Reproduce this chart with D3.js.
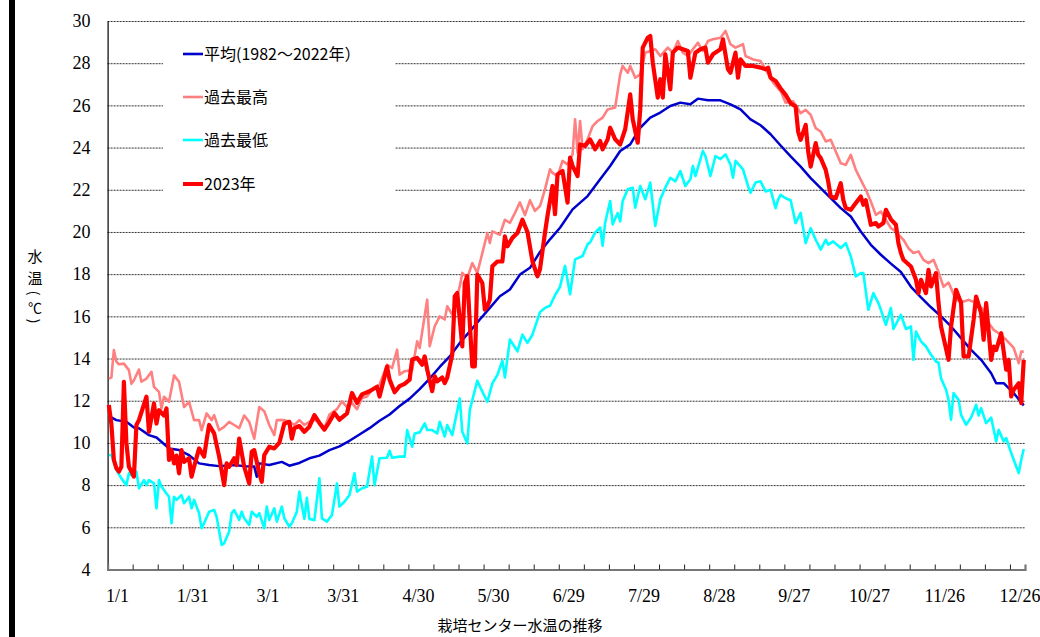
<!DOCTYPE html>
<html>
<head>
<meta charset="utf-8">
<script src="https://cdn.jsdelivr.net/npm/d3@7"></script>
<style>
  body { margin: 0; background: #fff; }
  svg { display: block; }
</style>
</head>
<body>
<div class="card"></div>
<script>
// day index (0 = 1/1, 366 categories incl. 2/29) and water temperature
var avgTemps = [[0,11.27],[3,11.08],[7,11.0],[10,10.73],[12,10.7],[16,10.37],[19,10.26],[22,9.95],[24,9.74],[28,9.66],[32,9.42],[36,9.03],[40,8.95],[44,8.9],[50,8.95],[54,8.9],[58,8.88],[59,8.4],[60,9.03],[64,8.95],[69,9.1],[72,8.92],[76,9.05],[80,9.27],[84,9.4],[88,9.66],[92,9.84],[96,10.1],[100,10.4],[104,10.7],[108,11.05],[112,11.35],[116,11.75],[120,12.1],[124,12.55],[128,13.05],[132,13.6],[136,14.1],[140,14.74],[144,15.29],[148,15.85],[152,16.4],[156,16.95],[160,17.27],[164,17.98],[168,18.3],[172,19.05],[176,19.65],[180,20.2],[185,21.07],[191,21.7],[196,22.5],[200,23.13],[204,23.84],[208,24.15],[212,24.94],[216,25.42],[220,25.66],[224,25.97],[228,26.13],[232,26.05],[235,26.32],[239,26.24],[244,26.24],[248,26.05],[252,25.81],[256,25.34],[260,25.06],[264,24.63],[268,24.1],[272,23.58],[276,23.1],[280,22.55],[284,22.08],[288,21.6],[292,21.13],[296,20.73],[300,20.02],[304,19.39],[308,18.92],[312,18.5],[316,18.1],[320,17.4],[324,16.9],[328,16.43],[332,16.0],[336,15.52],[340,14.97],[344,14.41],[348,13.94],[352,13.3],[354,12.83],[357,12.83],[361,12.36],[365,11.78]];

var maxTemps = [[0,13.05],[1,13.1],[2,14.4],[3,13.85],[4,13.73],[6,13.76],[8,13.45],[9,12.8],[10,12.97],[12,13.48],[13,12.9],[15,13.05],[17,13.37],[18,12.66],[20,12.42],[21,11.63],[22,12.19],[24,11.95],[26,13.2],[28,12.9],[30,11.7],[32,11.95],[34,11.08],[36,11.08],[37,10.6],[39,11.4],[41,11.08],[42,11.32],[44,10.6],[46,10.76],[48,11.0],[50,10.85],[52,10.7],[54,11.3],[56,11.0],[58,10.2],[60,11.7],[62,11.5],[64,10.85],[66,10.37],[67,11.08],[70,11.08],[72,11.0],[74,10.85],[76,11.08],[78,10.85],[80,11.0],[82,11.08],[84,11.0],[86,10.7],[88,11.35],[91,11.6],[93,11.97],[95,11.7],[97,11.9],[99,11.6],[101,12.13],[103,12.2],[105,12.53],[108,12.76],[111,13.71],[113,13.55],[115,14.42],[116,13.24],[118,13.4],[121,13.45],[123,14.82],[124,14.5],[127,16.79],[128,14.58],[130,15.53],[132,16.0],[134,15.85],[135,16.48],[137,16.08],[140,17.42],[141,18.06],[143,17.82],[145,18.53],[147,18.06],[149,19.0],[151,19.95],[152,19.48],[153,20.03],[156,19.87],[158,20.58],[160,20.43],[162,20.9],[164,21.4],[166,20.8],[168,21.5],[170,21.0],[172,21.23],[174,22.02],[176,22.97],[177,22.8],[179,22.65],[181,23.37],[183,23.2],[185,23.68],[186,25.34],[187,23.76],[188,25.26],[189,23.92],[191,24.39],[193,25.02],[195,25.26],[197,25.42],[199,25.81],[202,25.9],[204,27.47],[205,27.87],[207,27.55],[208,27.87],[210,27.31],[212,27.47],[214,28.5],[218,28.66],[220,28.34],[223,28.74],[225,28.5],[227,29.05],[229,28.5],[231,28.34],[233,28.66],[235,28.97],[237,28.58],[239,29.05],[241,29.13],[244,29.21],[246,29.53],[248,28.9],[250,28.74],[253,28.9],[254,28.34],[257,28.18],[260,28.1],[262,27.71],[265,27.08],[268,26.68],[270,26.13],[273,26.2],[276,25.63],[278,25.79],[280,25.55],[282,24.92],[284,24.76],[286,24.29],[288,24.37],[290,23.81],[292,23.26],[294,23.18],[296,23.66],[298,22.94],[300,22.47],[302,22.0],[304,21.44],[306,20.81],[308,20.97],[312,20.18],[314,20.02],[317,19.63],[319,19.23],[321,19.0],[323,19.08],[325,18.68],[327,18.52],[329,18.68],[331,18.1],[333,17.4],[335,17.6],[338,16.78],[341,16.7],[343,16.78],[346,16.63],[349,16.3],[351,15.68],[353,15.36],[355,15.2],[358,14.89],[361,14.5],[363,13.78],[364,14.33],[365,14.33]];

var minTemps = [[0,9.43],[1,9.43],[3,8.72],[5,8.32],[7,8.0],[8,8.56],[10,8.4],[11,8.64],[12,7.85],[14,8.24],[15,8.0],[16,8.24],[18,8.08],[19,6.9],[20,8.24],[21,7.93],[23,7.6],[24,7.45],[25,6.19],[26,7.45],[27,7.3],[29,7.53],[30,7.14],[32,7.45],[33,6.9],[34,7.3],[36,6.67],[37,5.96],[38,6.19],[40,6.74],[42,6.82],[43,6.5],[45,5.16],[46,5.24],[48,5.8],[49,6.67],[50,6.82],[52,6.35],[53,6.74],[54,6.43],[56,6.11],[57,6.74],[59,6.5],[60,6.67],[62,5.96],[63,6.98],[64,6.35],[66,6.9],[67,6.27],[69,6.98],[70,6.43],[72,6.03],[73,6.19],[75,6.74],[76,7.69],[78,6.4],[79,7.4],[80,6.4],[82,6.34],[84,8.32],[85,6.42],[87,6.27],[89,6.58],[91,8.08],[92,6.98],[94,7.21],[96,7.53],[98,8.56],[99,7.69],[101,7.85],[103,7.92],[105,9.35],[106,8.0],[108,9.27],[111,9.3],[112,9.63],[113,9.3],[116,9.35],[118,9.35],[119,10.61],[121,9.82],[122,10.45],[124,10.5],[126,10.93],[127,10.61],[129,10.61],[131,10.45],[132,11.0],[134,10.3],[135,10.85],[137,10.37],[140,12.11],[141,10.53],[143,9.98],[144,11.56],[147,12.95],[149,12.43],[151,11.95],[153,12.82],[155,13.22],[157,13.9],[158,13.1],[160,14.9],[163,14.34],[165,15.13],[167,14.74],[169,15.13],[172,16.2],[174,16.4],[176,16.5],[178,17.0],[180,17.4],[182,18.39],[184,17.05],[186,18.7],[189,18.86],[191,19.42],[192,19.5],[194,19.97],[196,20.21],[197,19.34],[198,20.44],[200,21.47],[201,20.36],[203,20.9],[204,20.5],[205,21.47],[207,22.02],[209,22.1],[210,21.15],[212,22.18],[214,21.55],[216,22.34],[218,20.28],[220,21.55],[222,22.1],[224,22.57],[226,22.4],[228,22.89],[230,22.18],[232,22.5],[233,23.13],[234,22.65],[237,23.84],[238,23.6],[240,22.65],[242,23.6],[244,23.45],[246,23.68],[248,23.2],[249,22.57],[250,23.37],[253,22.97],[255,22.18],[256,21.86],[258,22.34],[260,22.4],[262,21.92],[264,22.0],[266,21.13],[267,21.53],[268,21.76],[270,21.6],[272,21.5],[274,20.42],[276,20.9],[278,19.47],[280,20.18],[282,19.63],[284,19.16],[286,19.63],[287,19.4],[289,19.55],[292,19.24],[294,19.47],[296,18.84],[298,17.89],[300,18.05],[301,18.05],[303,16.31],[305,17.1],[307,16.63],[308,16.31],[310,15.6],[312,16.4],[313,15.4],[316,16.07],[318,15.4],[320,15.52],[321,13.94],[322,15.28],[324,14.81],[326,14.57],[328,14.18],[330,13.86],[331,13.8],[332,13.07],[334,12.52],[335,12.04],[336,11.1],[337,12.36],[339,12.04],[340,11.33],[342,10.86],[344,11.2],[346,11.81],[347,11.3],[348,11.65],[350,10.94],[352,11.2],[354,10.07],[355,10.62],[357,10.07],[358,10.23],[360,9.52],[362,8.88],[363,8.57],[364,9.2],[365,9.71]];

var temps2023 = [[0,11.8],[1,10.9],[2,9.2],[3,8.8],[4,8.64],[5,8.87],[6,12.9],[7,10.0],[8,8.87],[9,8.64],[10,8.4],[11,10.85],[12,11.08],[15,12.19],[16,10.53],[18,11.87],[19,10.92],[20,11.55],[22,11.3],[23,11.63],[24,9.19],[25,9.66],[26,9.03],[27,9.4],[28,8.56],[29,9.66],[30,9.1],[32,9.27],[33,8.4],[34,8.87],[36,9.74],[38,9.35],[39,10.14],[40,10.85],[42,10.45],[44,9.35],[46,8.0],[47,9.03],[48,8.87],[50,9.27],[51,8.95],[52,10.2],[54,8.87],[56,8.08],[57,9.58],[58,9.66],[60,8.56],[61,8.16],[62,9.42],[64,9.82],[66,9.74],[68,10.0],[70,10.92],[72,11.0],[73,10.2],[74,10.7],[76,10.8],[78,10.53],[80,10.77],[82,11.32],[84,10.95],[86,10.63],[88,11.0],[90,11.42],[92,11.1],[95,11.4],[97,12.37],[99,11.9],[101,12.3],[104,12.45],[107,12.66],[108,12.2],[111,13.62],[112,13.0],[114,12.4],[116,12.69],[118,12.8],[120,13.0],[121,13.95],[123,14.03],[125,13.71],[126,14.1],[127,13.48],[129,12.45],[130,13.16],[131,12.92],[133,13.1],[134,12.84],[135,13.1],[137,14.19],[138,16.95],[139,17.11],[141,14.58],[142,17.58],[143,17.9],[144,15.69],[145,13.63],[146,13.63],[147,17.98],[149,17.58],[150,16.32],[151,16.48],[152,16.79],[153,18.37],[155,18.6],[157,18.6],[158,19.79],[159,19.32],[161,19.72],[163,19.95],[165,20.58],[167,20.0],[169,18.6],[171,17.9],[172,18.23],[174,19.97],[175,20.76],[177,22.18],[178,20.84],[179,22.73],[181,22.89],[183,21.39],[184,23.52],[185,23.13],[187,22.65],[188,24.15],[190,24.08],[192,24.39],[194,23.92],[196,24.31],[197,23.92],[199,24.39],[200,24.94],[202,24.39],[204,24.15],[206,24.87],[208,26.52],[209,25.34],[211,24.23],[212,25.81],[213,28.74],[215,29.21],[216,29.29],[217,28.03],[219,26.37],[220,27.24],[221,26.37],[222,28.42],[224,26.76],[225,28.5],[227,28.74],[229,28.66],[231,28.58],[232,27.31],[234,28.5],[236,28.66],[238,28.74],[239,28.03],[241,28.42],[244,28.66],[245,29.13],[247,27.71],[248,27.55],[250,28.5],[251,27.31],[252,28.18],[254,27.87],[257,27.87],[260,27.79],[262,27.71],[263,27.79],[264,27.31],[266,27.16],[268,26.8],[270,26.5],[272,26.1],[274,25.95],[275,24.76],[276,24.37],[278,25.08],[279,23.81],[280,23.1],[282,24.21],[283,23.66],[284,23.5],[286,22.94],[287,22.39],[288,21.68],[290,21.6],[292,22.31],[293,21.52],[294,21.13],[296,21.05],[298,21.37],[300,21.68],[301,21.29],[302,21.5],[304,20.34],[306,20.42],[307,20.26],[309,20.42],[310,21.05],[312,20.6],[314,20.34],[315,19.47],[316,19.0],[317,18.68],[320,18.36],[322,17.73],[323,17.1],[324,17.73],[326,17.1],[327,18.2],[328,17.42],[330,18.05],[331,16.63],[332,15.52],[335,13.94],[336,15.52],[338,17.26],[340,16.63],[341,14.1],[343,14.1],[345,15.84],[346,16.94],[348,16.15],[349,14.89],[350,16.63],[352,13.94],[353,14.57],[354,14.4],[356,15.2],[358,13.47],[359,13.94],[360,12.2],[361,12.52],[363,12.83],[364,11.89],[365,13.94]];

var dateLabels = ["1/1","1/31","3/1","3/31","4/30","5/30","6/29","7/29","8/28","9/27","10/27","11/26","12/26"];
var yTicks = [4,6,8,10,12,14,16,18,20,22,24,26,28,30];
var seriesNames = ["平均(1982～2022年）","過去最高","過去最低","2023年"];

var width = 1040,
    height = 637,
    nDays = 366;

var svg = d3.select(".card").append("svg")
    .attr("width", width)
    .attr("height", height);

var x = d3.scaleLinear().domain([0, nDays]).range([107.6, 1025]);
var y = d3.scaleLinear().domain([4, 30]).range([569.5, 21]);

var jp = "'Noto Sans CJK JP', 'Noto Sans', sans-serif";
var serif = "'Liberation Serif', 'DejaVu Serif', serif";

// black bar at the left edge
svg.append("rect").attr("x", 9).attr("y", 0).attr("width", 6).attr("height", height).attr("fill", "#000");

// dotted gridlines
svg.append("g").selectAll("line").data(yTicks.filter(function(d) { return d > 4; }))
    .enter().append("line")
    .attr("x1", x(0)).attr("x2", x(nDays))
    .attr("y1", function(d) { return y(d) + 0.5; })
    .attr("y2", function(d) { return y(d) + 0.5; })
    .attr("stroke", "#333").attr("stroke-width", 1)
    .attr("stroke-dasharray", "2,1");

// y labels
var yAxis = svg.append("g")
    .attr("transform", "translate(" + x(0) + ",0)")
    .call(d3.axisLeft(y).tickValues(yTicks).tickSize(0).tickPadding(17).tickFormat(d3.format("d")));
yAxis.select(".domain").attr("stroke", "#000").attr("stroke-width", 1.2);
yAxis.selectAll("text").attr("font-family", serif).attr("font-size", 18).attr("fill", "#000");

// lines
var line = d3.line()
    .x(function(d) { return x(d[0] + 0.5); })
    .y(function(d) { return y(d[1]); });

var series = [
  { data: avgTemps, color: "#0000CC", w: 2.5 },
  { data: maxTemps, color: "#FF8080", w: 2.6 },
  { data: minTemps, color: "#00FFFF", w: 2.6 },
  { data: temps2023, color: "#FF0000", w: 4.2 }
];

series.forEach(function(s) {
  svg.append("path").datum(s.data)
      .attr("d", line)
      .attr("fill", "none")
      .attr("stroke", s.color)
      .attr("stroke-width", s.w)
      .attr("stroke-linejoin", "round");
});

// x axis with inward ticks every 10 days
var xAxis = svg.append("g")
    .attr("transform", "translate(0," + y(4) + ")")
    .call(d3.axisBottom(x).tickValues(d3.range(10, nDays, 10)).tickSize(-5).tickFormat(""));
xAxis.select(".domain").attr("stroke", "#777").attr("stroke-width", 2.2);
xAxis.selectAll(".tick line").attr("stroke", "#222");

svg.append("g").selectAll("text").data(dateLabels).enter().append("text")
    .attr("x", function(d, i) { return x(i * 30) + 10; })
    .attr("y", 602)
    .attr("text-anchor", "middle")
    .attr("font-family", serif).attr("font-size", 18)
    .text(function(d) { return d; });

// axis titles
svg.append("text")
    .attr("x", 520).attr("y", 631)
    .attr("text-anchor", "middle")
    .attr("font-family", jp).attr("font-size", 15)
    .text("栽培センター水温の推移");

// vertical y title: 水 温 (℃) stacked, brackets turned sideways
var yTitle = ["水", "温", "(", "℃", ")"];
var yTitleMid = [255, 277, 293, 307, 321];
svg.append("g").selectAll("text").data(yTitle).enter().append("text")
    .attr("transform", function(d, i) {
      var r = (d === "(" || d === ")") ? " rotate(90)" : "";
      return "translate(35," + yTitleMid[i] + ")" + r;
    })
    .attr("text-anchor", "middle")
    .attr("dominant-baseline", "central")
    .attr("font-family", jp)
    .attr("font-size", function(d) { return (d === "水" || d === "温") ? 15 : 14; })
    .text(function(d) { return d; });

// legend
var legend = svg.append("g");
legend.append("rect").attr("x", 163).attr("y", 32).attr("width", 232).attr("height", 176).attr("fill", "#fff");
var rowY = [54, 97, 140, 184];
seriesNames.forEach(function(name, i) {
  legend.append("line")
      .attr("x1", 183).attr("x2", 203)
      .attr("y1", rowY[i]).attr("y2", rowY[i])
      .attr("stroke", series[i].color)
      .attr("stroke-width", i === 3 ? 4 : 2.6);
  legend.append("text")
      .attr("x", 204).attr("y", rowY[i] + 6)
      .attr("font-family", jp).attr("font-size", 16)
      .text(name);
});
</script>
</body>
</html>
